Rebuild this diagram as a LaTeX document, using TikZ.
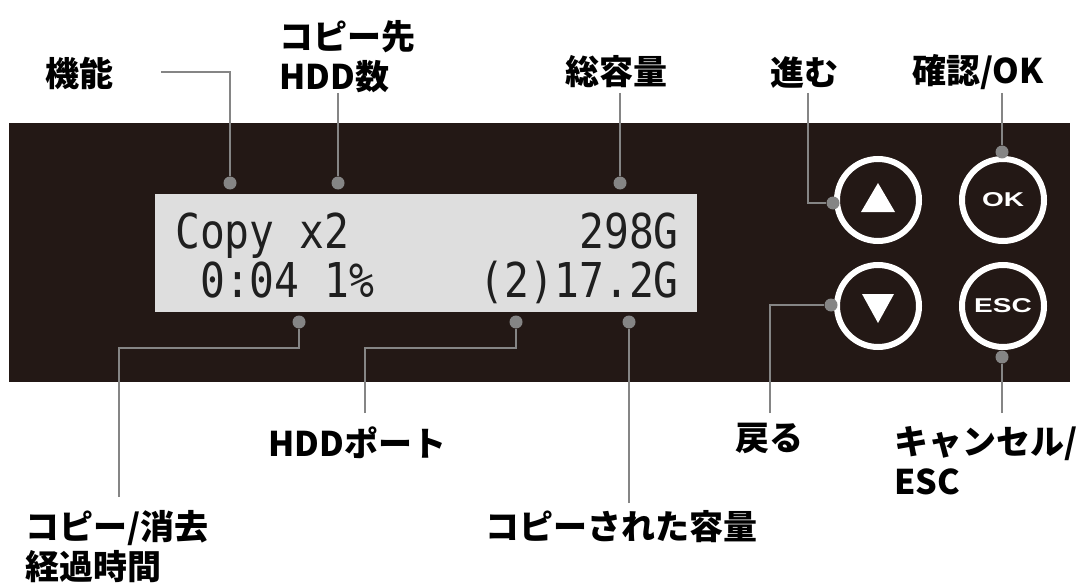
\documentclass[tikz,border=0pt]{standalone}
\usepackage{fontspec}
\usepackage{tikz}
\newfontfamily\jpfont{Noto Sans CJK JP}
\newfontfamily\lcdfont{DejaVu Sans Mono}[FakeStretch=0.86]
\newfontfamily\btnfont{Liberation Sans Bold}[FakeStretch=1.4]
\definecolor{panel}{HTML}{231815}
\definecolor{lcd}{HTML}{DEDEDE}
\definecolor{leadgray}{HTML}{858585}

\begin{document}
\begin{tikzpicture}[x=1pt,y=-1pt]
\tikzstyle{every node}+=[inner sep=0pt]
\tikzstyle{callout}=[font=\jpfont\bfseries\fontsize{34}{40}\selectfont, align=left, anchor=west]
\tikzstyle{leader}=[leadgray, line width=1.8pt]
\tikzstyle{leaddot}=[circle, fill=leadgray, minimum size=13pt]
\tikzstyle{button}=[circle, draw=white, line width=6pt, minimum size=82pt, fill=panel, text=white, font=\btnfont\fontsize{20}{20}\selectfont]
\tikzstyle{lcdtext}=[text=black!88, font=\lcdfont\fontsize{48}{48}\selectfont]
\useasboundingbox (0,0) rectangle (1091,588);
\fill [panel] (9,123) rectangle (1070,382);
\fill [lcd] (155,194) rectangle (697,312);
\node [lcdtext, anchor=base west] (mode) at (175,248) {Copy x2};
\node [lcdtext, anchor=base east] (total) at (679,248) {298G};
\node [lcdtext, anchor=base west] (time) at (200,297) {0:04 1\%};
\node [lcdtext, anchor=base east] (done) at (679,297) {(2)17.2G};
\node [button] (up) at (878,200) {};
\node [button] (ok) at (1003,200) {OK};
\node [button] (down) at (878,306) {};
\node [button] (esc) at (1003,306) {ESC};
\fill [white] ([shift={(-17,12)}]up.center) -- ([shift={(17,12)}]up.center) -- ([shift={(0,-17)}]up.center) -- cycle;
\fill [white] ([shift={(-16,-12)}]down.center) -- ([shift={(16,-12)}]down.center) -- ([shift={(0,17)}]down.center) -- cycle;
\node [leaddot] (dfunc) at (230,183) {};
\node [leaddot] (dcount) at (338,183) {};
\node [leaddot] (dtotal) at (620,183) {};
\node [leaddot] (dup) at (833,203) {};
\node [leaddot] (dok) at (1002,152) {};
\node [leaddot] (dtime) at (299,322) {};
\node [leaddot] (dport) at (516,322) {};
\node [leaddot] (ddone) at (629,322) {};
\node [leaddot] (ddown) at (831,305) {};
\node [leaddot] (desc) at (1002,357) {};
\node [callout] (lfunc) at (45,73) {機能};
\node [callout] (lcount) at (279,57) {コピー先\\HDD数};
\node [callout] (ltotal) at (565,72) {総容量};
\node [callout] (lfwd) at (770,72) {進む};
\node [callout] (lok) at (912,72) {確認/OK};
\node [callout] (lport) at (268,443) {HDDポート};
\node [callout] (lback) at (735,438) {戻る};
\node [callout] (lesc) at (894,461) {キャンセル/\\ESC};
\node [callout] (ltime) at (25,547) {コピー/消去\\経過時間};
\node [callout] (ldone) at (485,527) {コピーされた容量};
\coordinate (kfunc) at (161,72);
\coordinate (kcount) at (338,93);
\coordinate (ktotal) at (620,93);
\coordinate (kfwd) at (808,93);
\coordinate (kok) at (1002,93);
\coordinate (ktime) at (119,497);
\coordinate (kport) at (365,413);
\coordinate (kdone) at (629,503);
\coordinate (kback) at (770,413);
\coordinate (kesc) at (1002,413);
\draw [leader] (kfunc) -| (dfunc);
\draw [leader] (kcount) -- (dcount);
\draw [leader] (ktotal) -- (dtotal);
\draw [leader] (kfwd) |- (dup);
\draw [leader] (kok) -- (dok);
\draw [leader] (ktime) |- (299,348) -- (dtime);
\draw [leader] (kport) |- (516,348) -- (dport);
\draw [leader] (kdone) -- (ddone);
\draw [leader] (kback) |- (ddown);
\draw [leader] (kesc) -- (desc);
\end{tikzpicture}
\end{document}
